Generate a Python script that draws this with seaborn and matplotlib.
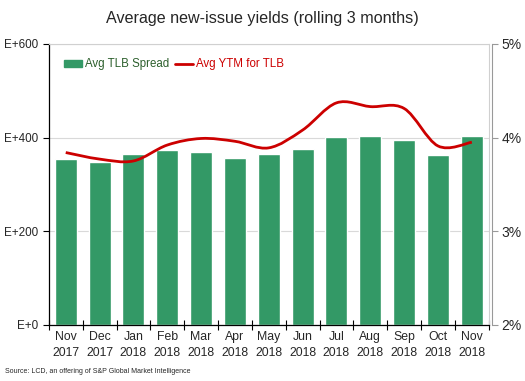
import numpy as np
import pandas as pd
import seaborn as sns
import matplotlib.pyplot as plt
from matplotlib.path import Path
from matplotlib.patches import PathPatch, Patch
from matplotlib.lines import Line2D

# Data
months = ['Nov\n2017', 'Dec\n2017', 'Jan\n2018', 'Feb\n2018', 'Mar\n2018', 'Apr\n2018', 'May\n2018',
          'Jun\n2018', 'Jul\n2018', 'Aug\n2018', 'Sep\n2018', 'Oct\n2018', 'Nov\n2018']
tlb_spread = [354, 347, 365, 373, 369, 357, 365, 376, 402, 404, 394, 363, 404]
ytm_tlb = [3.84, 3.77, 3.75, 3.92, 3.99, 3.96, 3.89, 4.08, 4.37, 4.33, 4.31, 3.91, 3.95]
left_ticks = [0, 200, 400, 600]
left_labels = ['E+0', 'E+200', 'E+400', 'E+600']
right_ticks = [2, 3, 4, 5]
right_labels = ['2%', '3%', '4%', '5%']

green = '#339966'
red = '#CC0000'

sns.set_style('white')
plt.rcParams['font.family'] = ['Liberation Sans', 'DejaVu Sans']

df = pd.DataFrame({'month': months, 'spread': tlb_spread})

fig = plt.figure(figsize=(5.25, 3.81), dpi=100)
ax = fig.add_axes([0.093, 0.147, 0.838, 0.738])
sns.barplot(x='month', y='spread', data=df, color=green, width=0.65, saturation=1, ax=ax)
ax.set_xlim(-0.5, 12.5)
ax.set_ylim(0, 600)
ax.set_xlabel('')
ax.set_ylabel('')
ax.set_yticks(left_ticks)
ax.set_yticklabels(left_labels, fontsize=8.4)
ax.grid(axis='y', color='#D9D9D9', linewidth=0.8)
ax.set_axisbelow(True)
ax.tick_params(axis='y', direction='out', length=4, width=0.8, color='black', pad=4, left=True)
ax.tick_params(axis='x', which='major', length=0, labelsize=8.8, pad=4)
for lbl in ax.get_xticklabels():
    lbl.set_linespacing(1.45)
ax.set_xticks(np.arange(-0.5, 13, 1), minor=True)
ax.tick_params(axis='x', which='minor', direction='inout', length=7, width=0.8, color='black', bottom=True)
for side in ['top', 'right']:
    ax.spines[side].set_color('#D0D0D0')
for side in ['left', 'bottom']:
    ax.spines[side].set_color('black')
    ax.spines[side].set_linewidth(0.9)

# smoothed YTM line on the right axis
ax2 = ax.twinx()
ax2.set_ylim(2, 5)
ax2.set_yticks(right_ticks)
ax2.set_yticklabels(right_labels, fontsize=8.6)
ax2.tick_params(axis='y', direction='out', length=4, width=0.8, color='#999999', pad=3, right=True)
ax2.spines['right'].set_color('#999999')
ax2.spines['right'].set_position(('outward', 2))
for side in ['top', 'left', 'bottom']:
    ax2.spines[side].set_visible(False)

xs = np.arange(len(ytm_tlb))
ys = np.array(ytm_tlb)
verts = [(xs[0], ys[0])]
codes = [Path.MOVETO]
n = len(xs)
for i in range(n - 1):
    p0 = np.array([xs[max(i - 1, 0)], ys[max(i - 1, 0)]])
    p1 = np.array([xs[i], ys[i]])
    p2 = np.array([xs[i + 1], ys[i + 1]])
    p3 = np.array([xs[min(i + 2, n - 1)], ys[min(i + 2, n - 1)]])
    c1 = p1 + (p2 - p0) / 6
    c2 = p2 - (p3 - p1) / 6
    verts += [tuple(c1), tuple(c2), tuple(p2)]
    codes += [Path.CURVE4] * 3
ax2.add_patch(PathPatch(Path(verts, codes), facecolor='none', edgecolor=red, linewidth=2))

handles = [Patch(color=green), Line2D([], [], color=red, linewidth=2)]
leg = ax.legend(handles, ['Avg TLB Spread', 'Avg YTM for TLB'], loc='upper left', ncol=2,
                frameon=False, fontsize=8.3, handlelength=1.6, handleheight=0.6,
                handletextpad=0.25, columnspacing=0.5, bbox_to_anchor=(0.01, 0.985))
leg.get_texts()[0].set_color('#2B5E2B')
leg.get_texts()[1].set_color(red)

fig.suptitle('Average new-issue yields (rolling 3 months)', fontsize=11.6, y=0.972)
fig.text(0.01, 0.022, 'Source: LCD, an offering of S&P Global Market Intelligence', fontsize=5.0)

fig.savefig('out.png', dpi=100)
